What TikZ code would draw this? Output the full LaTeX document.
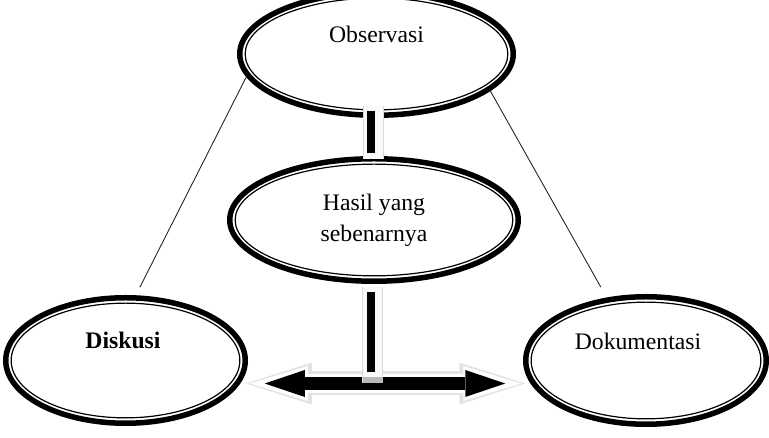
\documentclass[tikz,border=0pt]{standalone}
\usepackage{fontspec}
\setmainfont{Liberation Serif}
\usetikzlibrary{shapes.geometric,calc,arrows.meta}

\tikzset{
  oval/.style={ellipse, draw, line width=5.5pt, inner sep=0pt, align=center,
    font=\fontsize{23.7pt}{30.7pt}\selectfont,
    path picture={\draw[line width=1.2pt] let \p1=(path picture bounding box.north east),
      \p2=(path picture bounding box.center) in
      (\p2) ellipse [x radius=\x1-\x2-5.4pt, y radius=\y1-\y2-5.4pt];}},
  txt/.style={inner sep=0pt, font=\fontsize{23.7pt}{30.7pt}\selectfont},
  link/.style={line width=0.9pt, black!85},
  bar/.style={line width=8pt, line cap=butt},
  barglow/.style={line width=1pt, draw=gray!30, double=gray!5, double distance=19pt},
  dblarrow/.style={line width=13pt, {Triangle[length=40pt,width=27pt,line width=0pt]}-{Triangle[length=40pt,width=27pt,line width=0pt]}},
  shadowarrow/.style={line width=24pt, gray!22, {Triangle[length=66pt,width=42pt,line width=0pt]}-{Triangle[length=66pt,width=42pt,line width=0pt]}},
  shadowfill/.style={line width=19pt, white, {Triangle[length=58pt,width=35pt,line width=0pt]}-{Triangle[length=58pt,width=35pt,line width=0pt]}},
}

\begin{document}
\begin{tikzpicture}[x=1pt,y=1pt]
    \useasboundingbox (0,0) rectangle (769,438);

    % the four ovals
    \node[oval, minimum width=273.5pt, minimum height=122.5pt] (obs) at (376.5,384) {};
    \node[oval, minimum width=288.5pt, minimum height=122.5pt] (hasil) at (374,218) {Hasil yang\\sebenarnya};
    \node[oval, minimum width=239.5pt, minimum height=125.5pt] (disk) at (125.5,77.5) {};
    \node[oval, minimum width=240.5pt, minimum height=127.5pt] (dok) at (646,77.5) {};

    \node[txt] (obs-t) at ([yshift=20pt]obs.center) {Observasi};
    \node[txt] (disk-t) at ([shift={(-2.5pt,20pt)}]disk.center) {\bfseries Diskusi};
    \node[txt] (dok-t) at ([shift={(-8pt,19.5pt)}]dok.center) {Dokumentasi};

    % thin side lines
    \draw[link, shorten >=9pt] (obs.190) -- (disk.81);
    \draw[link, shorten >=12pt] (obs.-18) -- (dok.122);

    % double arrow between the lower ovals
    \coordinate (al) at ([shift={(16.75pt,-23pt)}]disk.east);
    \coordinate (ar) at ([shift={(-17.75pt,-23pt)}]dok.west);
    \draw[shadowarrow] ([xshift=-19pt]al) -- ([xshift=20pt]ar);
    \draw[shadowfill] ([xshift=-15pt]al) -- ([xshift=16pt]ar);
    \draw[dblarrow] (al) -- (ar);

    % vertical bars
    \draw[barglow] ([shift={(-3.5pt,12.25pt)}]obs.south) -- ([shift={(-1pt,-3.25pt)}]hasil.north);
    \draw[bar] ([shift={(-5.5pt,7.25pt)}]obs.south) -- ([shift={(-3pt,2.75pt)}]hasil.north);

    \coordinate (foot) at (hasil.south |- al);
    \draw[barglow] ([shift={(-1.25pt,-2.75pt)}]hasil.south) -- ([xshift=-1.25pt]foot);
    \fill[gray!55] ([xshift=-11.5pt]foot) rectangle ([shift={(9pt,6.5pt)}]foot);
    \draw[bar] ([shift={(-3pt,-7.75pt)}]hasil.south) -- ([shift={(-3pt,11.5pt)}]foot);
\end{tikzpicture}
\end{document}
